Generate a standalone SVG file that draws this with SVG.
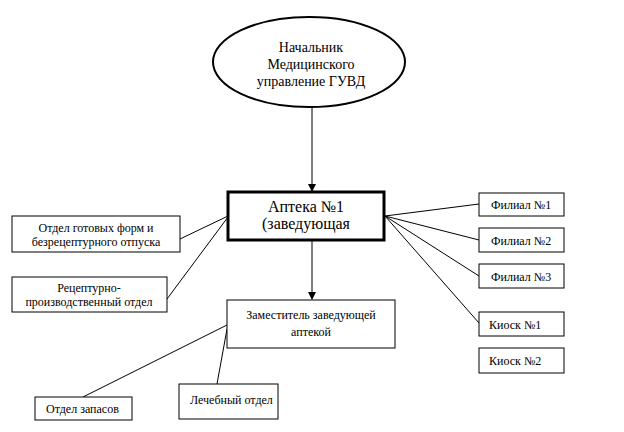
<svg xmlns="http://www.w3.org/2000/svg" width="624" height="432" viewBox="0 0 624 432">
<style>
.box{fill:#fff;stroke:#000;stroke-width:1}
.t{font-family:'Liberation Serif','Times New Roman',serif;font-size:12px;fill:#000}
.big{font-size:14px}
.main{font-size:16px}
.c{text-anchor:middle}
.ln{stroke:#000;stroke-width:1;fill:none}
</style>
<defs>
<marker id="ah" markerWidth="8" markerHeight="8" refX="7" refY="4" orient="auto" markerUnits="userSpaceOnUse">
<path d="M0,0 L8,4 L0,8 Z" fill="#000"/>
</marker>
</defs>
<rect width="624" height="432" fill="#fff"/>
<g id="connectors">
<line class="ln" x1="312" y1="107" x2="312" y2="191" marker-end="url(#ah)"/>
<line class="ln" x1="312" y1="241" x2="312" y2="299" marker-end="url(#ah)"/>
<line class="ln" x1="180" y1="239" x2="228" y2="216"/>
<line class="ln" x1="167" y1="299" x2="228" y2="217"/>
<line class="ln" x1="385" y1="216" x2="479" y2="204"/>
<line class="ln" x1="385" y1="216" x2="479" y2="240"/>
<line class="ln" x1="385" y1="216" x2="479" y2="276"/>
<line class="ln" x1="385" y1="216" x2="479" y2="323"/>
<line class="ln" x1="227" y1="325" x2="83" y2="397"/>
<line class="ln" x1="227" y1="329" x2="217" y2="384"/>
</g>
<g id="n_head">
<ellipse cx="309" cy="62" rx="96" ry="45" fill="#fff" stroke="#000" stroke-width="2"/>
<text class="t big c" x="311" y="52">Начальник</text>
<text class="t big c" x="311" y="69">Медицинского</text>
<text class="t big c" x="311" y="86">управление ГУВД</text>
</g>
<g id="n_apteka">
<rect x="228" y="192" width="156" height="48" fill="#fff" stroke="#000" stroke-width="3"/>
<text class="t main c" x="306" y="212">Аптека №1</text>
<text class="t main c" x="306" y="229">(заведующая</text>
</g>
<g id="n_otdel_gotovyh">
<rect class="box" x="12" y="216" width="168" height="36"/>
<text class="t c" x="96" y="232">Отдел готовых форм и</text>
<text class="t c" x="96" y="246">безрецептурного отпуска</text>
</g>
<g id="n_receptur">
<rect class="box" x="12" y="277" width="155" height="35"/>
<text class="t c" x="89" y="292">Рецептурно-</text>
<text class="t c" x="89" y="306">производственный отдел</text>
</g>
<g id="n_zam">
<rect class="box" x="227" y="300" width="168" height="48"/>
<text class="t c" x="311" y="319">Заместитель заведующей</text>
<text class="t c" x="311" y="336">аптекой</text>
</g>
<g id="n_filial1">
<rect class="box" x="479" y="193" width="85" height="23"/>
<text class="t" x="491" y="209">Филиал №1</text>
</g>
<g id="n_filial2">
<rect class="box" x="479" y="228" width="85" height="24"/>
<text class="t" x="491" y="245">Филиал №2</text>
</g>
<g id="n_filial3">
<rect class="box" x="479" y="264" width="85" height="24"/>
<text class="t" x="491" y="281">Филиал №3</text>
</g>
<g id="n_kiosk1">
<rect class="box" x="479" y="312" width="85" height="24"/>
<text class="t" x="489" y="329">Киоск №1</text>
</g>
<g id="n_kiosk2">
<rect class="box" x="479" y="348" width="85" height="25"/>
<text class="t" x="489" y="365">Киоск №2</text>
</g>
<g id="n_zapasov">
<rect class="box" x="35" y="397" width="97" height="23"/>
<text class="t" x="46" y="413">Отдел запасов</text>
</g>
<g id="n_lechebny">
<rect class="box" x="179" y="384" width="99" height="35"/>
<text class="t" x="190" y="404">Лечебный отдел</text>
</g>
</svg>
